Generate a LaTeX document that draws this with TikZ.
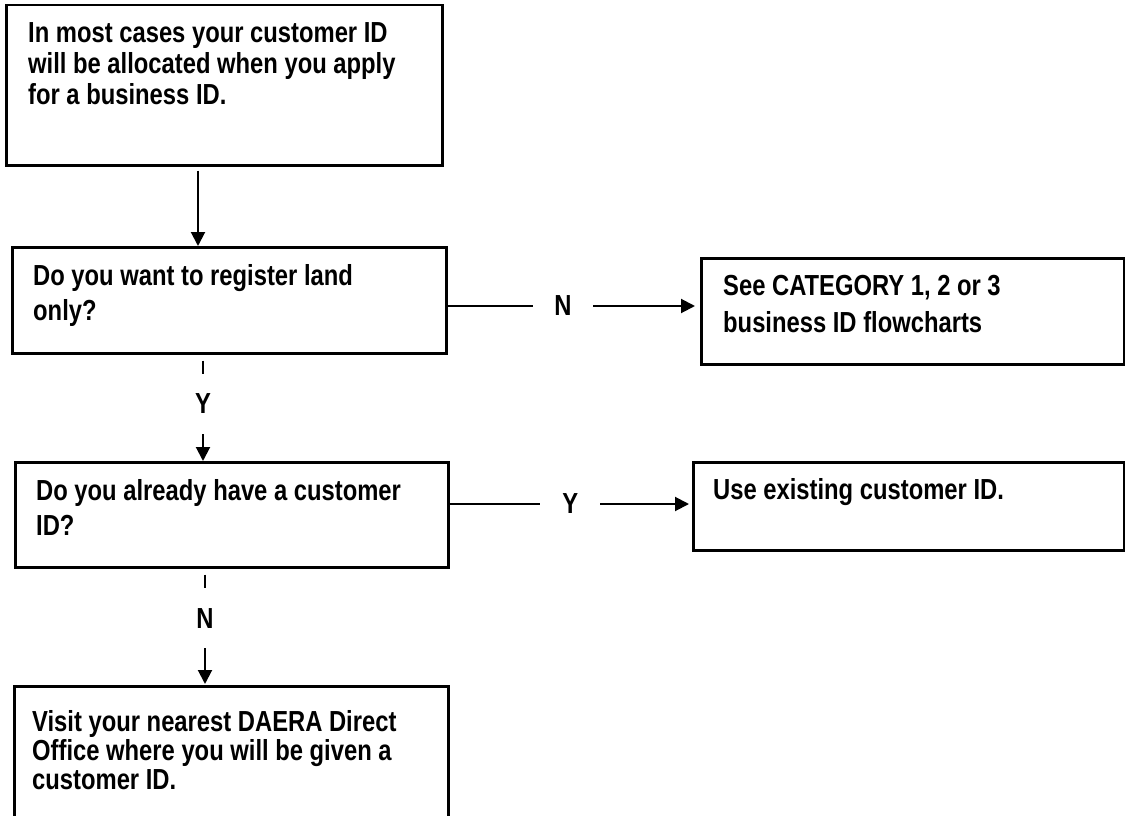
\documentclass[tikz,border=0pt]{standalone}
\usepackage{fontspec}
\setmainfont{Liberation Sans}[FakeStretch=0.82]
\usetikzlibrary{arrows.meta}
\newcommand{\flines}[2]{\vtop{\baselineskip=#1pt\lineskiplimit=-100pt #2}}
\begin{document}
\begin{tikzpicture}[x=1pt,y=-1pt,
  font=\fontsize{29}{31}\selectfont\bfseries,
  box/.style={draw=black, line width=2.5pt, inner sep=0pt, anchor=north west},
  txt/.style={inner sep=0pt, anchor=base west},
  conn/.style={draw=black, line width=2pt, -{Triangle[length=14pt,width=14pt]}},
  lblv/.style={fill=white, inner sep=0pt, minimum width=30pt, minimum height=60pt},
  lblh/.style={fill=white, inner sep=0pt, minimum width=60pt, minimum height=30pt}]
\useasboundingbox (0,0) rectangle (1125,816);
\fill[white] (0,0) rectangle (1125,816);
% boxes
\node[box, minimum width=436pt, minimum height=160pt] (b1) at (5,4) {};
\node[box, minimum width=434pt, minimum height=106pt] (b2) at (11,246) {};
\node[box, minimum width=433pt, minimum height=105pt] (b3) at (14,461) {};
\node[box, minimum width=434pt, minimum height=150pt] (b4) at (13,685) {};
\node[box, minimum width=423pt, minimum height=106pt] (bn) at (700,257) {};
\node[box, minimum width=431pt, minimum height=88pt] (by) at (692,461) {};
% texts
\node[txt] (t1) at (28,43) {\flines{31}{\hbox{In most cases your customer ID}\hbox{will be allocated when you apply}\hbox{for a business ID.}}};
\node[txt] (t2) at (33,285) {\flines{35}{\hbox{Do you want to register land}\hbox{only?}}};
\node[txt] (t3) at (36,500) {\flines{35}{\hbox{Do you already have a customer}\hbox{ID?}}};
\node[txt] (t4) at (32,731) {\flines{29}{\hbox{Visit your nearest DAERA Direct}\hbox{Office where you will be given a}\hbox{customer ID.}}};
\node[txt] (tn) at (723,295) {\flines{37}{\hbox{See CATEGORY 1, 2 or 3}\hbox{business ID flowcharts}}};
\node[txt] (ty) at (713,499) {Use existing customer ID.};
% guide coordinates
\coordinate (xa) at (198,0);
\coordinate (xb) at (203,0);
\coordinate (xc) at (205,0);
\coordinate (yn) at (0,306);
\coordinate (yy) at (0,504);
% connectors
\draw[conn, shorten <=4pt] (b1.south -| xa) -- (b2.north -| xa);
\draw[conn, shorten <=6pt] (b2.south -| xb) -- node[lblv, pos=0.463] (ly1) {Y} (b3.north -| xb);
\draw[conn, shorten <=6pt, shorten >=1pt] (b3.south -| xc) -- node[lblv, pos=0.429] (ln1) {N} (b4.north -| xc);
\draw[conn, shorten >=5pt] (b2.east |- yn) -- node[lblh, pos=0.457] (ln2) {N} (bn.west |- yn);
\draw[conn, shorten >=3pt] (b3.east |- yy) -- node[lblh, pos=0.498] (ly2) {Y} (by.west |- yy);
\end{tikzpicture}
\end{document}
